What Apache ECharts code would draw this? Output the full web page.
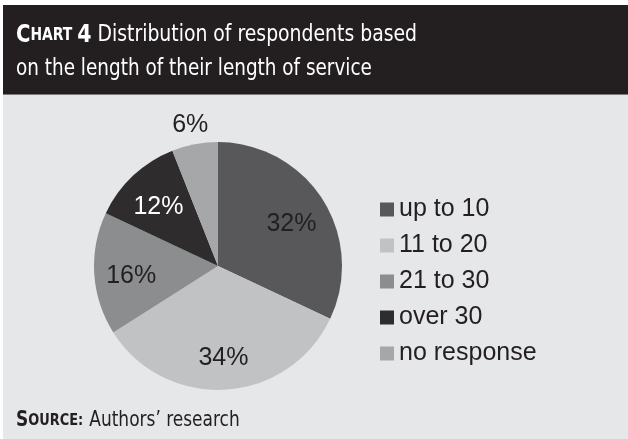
<!DOCTYPE html>
<html>
<head>
<meta charset="utf-8">
<script src="https://cdn.jsdelivr.net/npm/echarts@6/dist/echarts.min.js"></script>
<style>
html,body{margin:0;padding:0;background:#fff;}
#c{width:628px;height:439px;}
</style>
</head>
<body>
<div id="c"></div>
<script>
const categories = ['up to 10', '11 to 20', '21 to 30', 'over 30', 'no response'];
const values = [32, 34, 16, 12, 6];
const colors = ['#58585a', '#c1c2c4', '#8c8d8f', '#2e2c2d', '#a6a7a9'];
const labelColors = ['#231f20', '#231f20', '#231f20', '#ffffff', '#231f20'];
const titleLine2 = 'on the length of their length of service';
const sourceText = 'Authors’ research';

const COND = 'DejaVu Sans Condensed';
const chart = echarts.init(document.getElementById('c'));
const center = [218, 266];
const mainData = categories.map((n, i) => ({ name: n, value: values[i], itemStyle: { color: colors[i] } }));
const innerLabelData = categories.map((n, i) => ({
  name: n, value: values[i],
  label: { show: i < 4, color: labelColors[i] }
}));
const outerLabelData = categories.map((n, i) => ({
  name: n, value: values[i],
  label: { show: i === 4, color: labelColors[i] }
}));

chart.setOption({
  backgroundColor: '#e6e7e8',
  animation: false,
  graphic: [
    { type: 'rect', shape: { x: 0, y: 0, width: 628, height: 5 }, style: { fill: '#ffffff' }, z: 0 },
    { type: 'rect', shape: { x: 0, y: 0, width: 3, height: 439 }, style: { fill: '#ffffff' }, z: 0 },
    { type: 'rect', shape: { x: 3, y: 5, width: 625, height: 89 }, style: { fill: '#231f20' }, z: 0 },
    { type: 'rect', shape: { x: 3, y: 94, width: 625, height: 1 }, style: { fill: '#7d7b7c' }, z: 0 },
    {
      type: 'text', x: 16, y: 23, scaleX: 0.91, z: 10,
      style: {
        text: '{c|C}{s|HART }{n|4}  {t|Distribution of respondents based}',
        rich: {
          c: { fontFamily: COND, fontWeight: 'bold', fontSize: 24, fill: '#ffffff' },
          s: { fontFamily: COND, fontWeight: 'bold', fontSize: 17, fill: '#ffffff' },
          n: { fontFamily: COND, fontWeight: 'bold', fontSize: 25, fill: '#ffffff' },
          t: { fontFamily: COND, fontSize: 23, fill: '#ffffff' }
        }
      }
    },
    {
      type: 'text', x: 16, y: 58, scaleX: 0.89, z: 10,
      style: { text: titleLine2, fontFamily: COND, fontSize: 23, fill: '#ffffff' }
    },
    {
      type: 'text', x: 16, y: 410, scaleX: 0.9, z: 10,
      style: {
        text: '{c|S}{s|OURCE:}  {t|' + sourceText + '}',
        rich: {
          c: { fontFamily: COND, fontWeight: 'bold', fontSize: 21, fill: '#231f20' },
          s: { fontFamily: COND, fontWeight: 'bold', fontSize: 16, fill: '#231f20' },
          t: { fontFamily: COND, fontSize: 21, fill: '#231f20' }
        }
      }
    }
  ],
  legend: {
    orient: 'vertical',
    left: 380,
    top: 197,
    padding: 0,
    itemWidth: 14,
    itemHeight: 14,
    itemGap: 11,
    icon: 'rect',
    data: categories,
    textStyle: { fontFamily: 'Liberation Sans', fontSize: 25, color: '#231f20' }
  },
  series: [
    {
      type: 'pie',
      center: center,
      radius: [0, 124],
      startAngle: 90,
      clockwise: true,
      silent: true,
      label: { show: false },
      labelLine: { show: false },
      itemStyle: { borderWidth: 0 },
      data: mainData
    },
    {
      type: 'pie',
      center: center,
      radius: [0, 168],
      startAngle: 90,
      clockwise: true,
      silent: true,
      legendHoverLink: false,
      itemStyle: { color: 'rgba(0,0,0,0)' },
      label: { position: 'inside', formatter: '{c}%', fontFamily: 'Liberation Sans', fontSize: 25, offset: [0, 5] },
      labelLine: { show: false },
      data: innerLabelData
    },
    {
      type: 'pie',
      center: center,
      radius: [0, 290],
      startAngle: 90,
      clockwise: true,
      silent: true,
      legendHoverLink: false,
      itemStyle: { color: 'rgba(0,0,0,0)' },
      label: { position: 'inside', formatter: '{c}%', fontFamily: 'Liberation Sans', fontSize: 25, offset: [0, 4] },
      labelLine: { show: false },
      data: outerLabelData
    }
  ]
});
</script>
</body>
</html>
